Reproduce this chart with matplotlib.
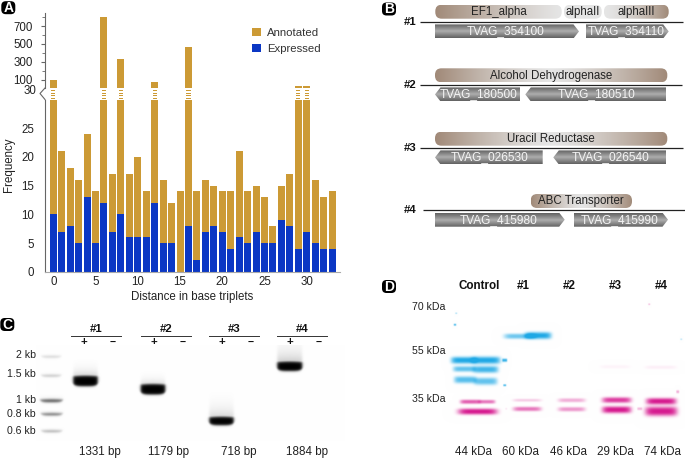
import numpy as np
import matplotlib
matplotlib.use("Agg")
import matplotlib.pyplot as plt
from matplotlib.patches import FancyBboxPatch, Polygon, Rectangle

plt.rcParams['font.family'] = ['Liberation Sans', 'DejaVu Sans']
plt.rcParams['font.size'] = 8.2

W, H = 685, 458
# ---- Panel A data
distance = list(range(34))
annotated = [100, 21, 18, 16, 24, 14, 800, 17, 330, 17, 20, 14, 72, 16, 12, 14, 465, 14,
             16, 15, 14, 14, 21, 14, 15, 13, 8, 15, 17, 30, 30, 16, 13, 14]
expressed = [10, 7, 8, 5, 13, 5, 12, 7, 10, 6, 6, 6, 12, 5, 5, 0, 8, 2,
             7, 8, 7, 4, 6, 5, 7, 5, 5, 9, 8, 4, 7, 5, 4, 4]
lower_ticks = [0, 5, 10, 15, 20, 25]
upper_ticks = [100, 300, 500, 700]
upper_minor = [200, 400, 600, 800]
x_ticks = [0, 5, 10, 15, 20, 25, 30]
GOLD, BLUE, GREY, TXT = '#CC9A35', '#0B37C4', '#666666', '#222222'
AXLAB = 8.3
TICK = 8.3

# ---- Panel B data
gene_tracks = [
    ('#1', ['TVAG_354100', 'TVAG_354110'], ['right', 'right']),
    ('#2', ['TVAG_180500', 'TVAG_180510'], ['left', 'left']),
    ('#3', ['TVAG_026530', 'TVAG_026540'], ['left', 'left']),
    ('#4', ['TVAG_415980', 'TVAG_415990'], ['right', 'right']),
]
# ---- Panel C data
pcr_groups = ['#1', '#2', '#3', '#4']
pcr_sizes = ['1331 bp', '1179 bp', '718 bp', '1884 bp']
ladder_labels = ['2 kb', '1.5 kb', '1 kb', '0.8 kb', '0.6 kb']
# ---- Panel D data
blot_lanes = ['Control', '#1', '#2', '#3', '#4']
blot_masses = ['44 kDa', '60 kDa', '46 kDa', '29 kDa', '74 kDa']
marker_labels = ['70 kDa', '55 kDa', '35 kDa']

fig = plt.figure(figsize=(W / 100, H / 100), dpi=100)
ov = fig.add_axes([0, 0, 1, 1], zorder=0)
ov.set_xlim(0, W); ov.set_ylim(H, 0); ov.axis('off')


def axes_px(x0, x1, ytop, ybot, **kw):
    return fig.add_axes([x0 / W, 1 - ybot / H, (x1 - x0) / W, (ybot - ytop) / H], **kw)


def t(x, y, s, ha='center', size=8.2, weight='normal', color=TXT, **kw):
    ov.text(x, y, s, ha=ha, va='center', fontsize=size, fontweight=weight, color=color, **kw)


def letter(x, y, s):
    ov.add_patch(FancyBboxPatch((x - 3.5, y - 3), 7, 6, boxstyle='round,pad=3.5,rounding_size=4.5',
                                fc='black', ec='black', lw=0, zorder=5))
    ov.text(x, y + 0.3, s, ha='center', va='center', color='white', fontsize=10, fontweight='bold', zorder=6)


letter(8.3, 7.7, 'A'); letter(389, 9, 'B'); letter(7.3, 324.5, 'C'); letter(389, 286.5, 'D')

# ---- Panel A
XL, XR = 45, 340
step, x0px = 8.45, 53.3
xlim = ((XL - x0px) / step, (XR - x0px) / step)
lo = axes_px(XL, XR, 99.5, 271.7, zorder=2, facecolor='none')
up = axes_px(XL, XR, 13.3, 88, zorder=2, facecolor='none')
lo.set_xlim(xlim); lo.set_ylim(0, 30)
up.set_xlim(xlim); up.set_ylim(4.7, 845)
barw = 7 / step
lo.bar(distance, [min(v, 30) for v in annotated], width=barw, color=GOLD, label='Annotated')
lo.bar(distance, expressed, width=barw, color=BLUE, label='Expressed')
up.bar(distance, [v if v >= 30 else 0 for v in annotated], width=barw, color=GOLD)
px_unit = 5 / 28.7
for d, v in zip(distance, annotated):
    if v >= 30:
        for off in (0.7, 3.2, 5.7, 8.2):
            lo.add_patch(Rectangle((d - 0.25, 30 + off * px_unit), 0.5, 1.3 * px_unit, fc=GOLD, ec='none', clip_on=False))
for s in ('top', 'right'):
    lo.spines[s].set_visible(False); up.spines[s].set_visible(False)
up.spines['bottom'].set_visible(False)
lo.spines['left'].set_color(GREY); up.spines['left'].set_color(GREY)
lo.spines['bottom'].set_color('#aaaaaa')
lo.set_xticks(x_ticks); lo.tick_params(axis='x', length=0, pad=3, labelcolor=TXT, labelsize=TICK)
lo.set_yticks(lower_ticks); lo.tick_params(axis='y', length=0, pad=8, labelcolor=TXT, labelsize=TICK)
up.set_xticks([])
up.set_yticks(upper_ticks); up.set_yticks(upper_minor, minor=True)
up.tick_params(axis='y', which='major', length=3, color=GREY, pad=6, labelcolor=TXT, labelsize=TICK)
up.tick_params(axis='y', which='minor', length=2, color=GREY)
lo.set_xlabel('Distance in base triplets', fontsize=AXLAB, color=TXT, labelpad=2)
ov.plot([45, 40, 45], [88, 93.5, 99.5], color=GREY, lw=0.8)
t(36, 91.5, '30', ha='right', size=TICK)
t(9, 165, 'Frequency', rotation=90, size=AXLAB)
h, l = lo.get_legend_handles_labels()
up.legend(h, l, loc='upper left', bbox_to_anchor=(252 / W, 1 - 28 / H), bbox_transform=fig.transFigure,
          frameon=False, fontsize=8.2, handlelength=0.8, handleheight=0.75, handletextpad=0.5,
          labelspacing=0.48, borderpad=0, borderaxespad=0, labelcolor='#333333')

# ---- Panel B
lr = np.linspace(0, 1, 256)
BROWN = np.array([0.63, 0.54, 0.47]); LIGHT = np.array([0.90, 0.90, 0.90])


def grad(kind):
    if kind == 'both':
        f = np.abs(lr * 2 - 1) ** 1.3
    elif kind == 'left':
        f = (1 - lr) ** 1.2
    elif kind == 'right':
        f = lr ** 1.6
    else:
        f = lr * 0
    return (LIGHT + (BROWN - LIGHT) * f[:, None])[None, :, :]


def pill(x0, x1, y0, y1, label, kind):
    im = ov.imshow(grad(kind), extent=(x0, x1, y1, y0), aspect='auto', zorder=1)
    im.set_clip_path(FancyBboxPatch((x0, y0), x1 - x0, y1 - y0, boxstyle='round,pad=0,rounding_size=6.5',
                                    transform=ov.transData))
    ov.text((x0 + x1) / 2, (y0 + y1) / 2 + 0.2, label, ha='center', va='center', fontsize=8.3, color='#222222', zorder=3)


vg = np.abs(np.linspace(-1, 1, 64))[:, None]
gene_img = (0.68 - 0.30 * vg)


def gene(x0, x1, y0, y1, label, d):
    head = 5.5
    ym = (y0 + y1) / 2
    if d == 'right':
        pts = [(x0, y0), (x1 - head, y0), (x1, ym), (x1 - head, y1), (x0, y1)]
    else:
        pts = [(x1, y0), (x0 + head, y0), (x0, ym), (x0 + head, y1), (x1, y1)]
    poly = Polygon(pts, closed=True, fc='none', ec='none')
    ov.add_patch(poly)
    im = ov.imshow(gene_img, extent=(x0, x1, y1, y0), aspect='auto', cmap='gray', vmin=0, vmax=1, zorder=1)
    im.set_clip_path(poly)
    ov.text((x0 + x1) / 2 + (1 if d == 'left' else -1), ym, label, ha='center', va='center',
            fontsize=8.6, color='#f4f4f4', zorder=3)


pill(435.3, 561.7, 4.7, 18.7, 'EF1_alpha', 'left')
pill(564, 601.7, 4.7, 18.7, 'alphaII', 'none')
pill(604, 668.7, 4.7, 18.7, 'alphaIII', 'right')
pill(435, 667.3, 68.3, 82.3, 'Alcohol Dehydrogenase', 'both')
pill(435, 667.3, 131.7, 145.7, 'Uracil Reductase', 'both')
pill(530.7, 632, 194, 208, 'ABC Transporter', 'both')
track_line = [(21.7, 420, 683), (84.7, 420, 682), (147.7, 420, 683), (210, 423, 685)]
gene_box = [
    [(435, 579), (585.7, 668.7)], [(435, 520), (525.3, 666)],
    [(435, 542.7), (553.3, 666)], [(435, 564.7), (574, 668)],
]
for (name, labels, dirs), (ly, a, b), boxes in zip(gene_tracks, track_line, gene_box):
    ov.plot([a, b], [ly, ly], color='#222222', lw=0.9, zorder=2, solid_capstyle='butt')
    t(410, ly, name, weight='bold', size=8.2, color='#111111')
    for lab, d, (g0, g1) in zip(labels, dirs, boxes):
        gene(g0, g1, ly + 2.7, ly + 16.7, lab, d)

# ---- Panel C
gx, gy = np.meshgrid(np.arange(36, 345, 0.5), np.arange(345, 441, 0.5))


def sig(v):
    return 1 / (1 + np.exp(-np.clip(v, -30, 30)))


def gel_band(x0, x1, yc, h, d, smear=0.0, slen=6.0, edge=0.8):
    xc, hw = (x0 + x1) / 2, (x1 - x0) / 2
    sx = sig((gx - x0) / edge) * sig((x1 - gx) / edge)
    u = (gx - xc) / hw
    top = yc - h / 2 + 0.6 * u ** 2
    bot = yc + h / 2 - 2.0 * u ** 4
    sy = sig((gy - top) / 0.8) * sig((bot - gy) / 0.7)
    sm = smear * np.exp(np.minimum(gy - top, 0) / slen) * (gy < top)
    return sx * np.maximum(sy * d, sm)


gel_specs = [
    (40, 62, 356.5, 1.6, 0.22, 0, 3), (40, 62, 375.5, 1.8, 0.28, 0, 3),
    (39.5, 63, 400.5, 2.8, 0.72, 0.1, 2), (40, 63, 414, 2.2, 0.62, 0, 2), (40, 63, 431, 1.6, 0.42, 0, 2),
    (73, 97.5, 380.7, 10.5, 1.0, 0.18, 5), (140.5, 165, 389, 10.5, 1.0, 0.16, 4),
    (209, 233.5, 420.7, 8.5, 1.0, 0.16, 8), (277, 302, 366, 9.5, 1.0, 0.2, 9),
]
dark = np.zeros_like(gx)
for spec in gel_specs:
    dark = np.maximum(dark, gel_band(*spec))
gel = np.minimum(0.993, 1 - dark)
ov.imshow(gel, extent=(36, 345, 441, 345), cmap='gray', vmin=0, vmax=1, aspect='auto', zorder=0, interpolation='bilinear')
for lab, y in zip(ladder_labels, [355.5, 374, 400, 414, 431]):
    t(35.7, y, lab, ha='right', size=7.6)
for name, (a, b), pl, mi, cx, sz in zip(pcr_groups, [(71, 121), (141, 191), (208.7, 258.7), (276.7, 326.7)],
                                        [84, 153.7, 221.7, 289.7], [113, 182.7, 250.7, 318.3],
                                        [100, 168.7, 239, 307], pcr_sizes):
    ov.plot([a, b], [336, 336], color='#333333', lw=0.7, zorder=2)
    t((a + b) / 2, 329.5, name, weight='bold', size=8.2, color='#111111')
    t(pl, 342.3, '+', weight='bold', size=8.2, color='#111111')
    t(mi, 342, '\u2212', weight='bold', size=7.5, color='#111111')
    t(cx, 451.7, sz, size=8.4)

# ---- Panel D
bx, by = np.meshgrid(np.arange(440, 685, 0.5), np.arange(296, 445, 0.5))


def blot_band(x0, x1, yc, sy, d, slope=0.0):
    xc, hw = (x0 + x1) / 2, (x1 - x0) / 2
    u = (bx - xc) / hw
    return d * (1 + slope * u) * np.exp(-np.abs(u) ** 6) * np.exp(-np.abs((by - yc) / sy) ** 2.6)


cyan_specs = [
    (451, 476, 360, 3.4, 1.0, 0), (472, 500, 360, 3.6, 1.0, 0),
    (453, 475, 368.7, 2.8, 0.7, 0), (473, 498, 369.2, 3.4, 0.85, 0),
    (454, 476, 379.5, 3.4, 0.75, 0), (474, 497, 381, 3.6, 0.7, 0),
    (504, 535, 336, 2.6, 0.65, 0), (525, 551, 335.3, 3.4, 1.0, 0),
    (502, 507, 360, 1.6, 0.9, 0), (503, 506, 385, 1, 0.8, 0),
    (453.5, 456, 324.5, 1, 0.8, 0), (455, 457, 313, 0.7, 0.4, 0), (680, 682, 339, 0.8, 0.3, 0),
]
pink_specs = [
    (460, 480, 401.5, 2.1, 0.7, 0), (478, 495, 401.5, 1.9, 0.6, 0), (458, 497, 411.3, 3.0, 1.0, 0),
    (513, 541, 400, 1.5, 0.22, 0), (513, 541, 408.7, 2.2, 0.6, 0),
    (558, 585, 400, 2.0, 0.35, 0), (558, 585, 409, 2.2, 0.45, 0),
    (602, 631, 399.8, 2.8, 0.85, 0), (602, 631, 409.5, 3.4, 1.0, 0),
    (646, 676, 401, 3.2, 1.0, 0), (645, 677, 411, 4.6, 1.0, 0),
    (600, 630, 366.5, 1.8, 0.05, 0), (645, 676, 367, 1.8, 0.07, 0),
    (676, 679, 391.5, 1.5, 0.35, 0), (648, 650, 304, 0.8, 0.3, 0),
    (505, 507, 408.5, 1, 0.1, 0), (637, 642, 408.5, 1.4, 0.3, 0),
]
cy = np.zeros_like(bx); mg = np.zeros_like(bx)
for s in cyan_specs:
    cy += blot_band(*s)
for s in pink_specs:
    mg += blot_band(*s)
cy = np.clip(cy, 0, 1)[..., None]; mg = np.clip(mg, 0, 1)[..., None]
ink_c = np.array([0.12, 0.66, 0.90]); ink_m = np.array([0.84, 0.10, 0.56])
img = (1 - cy * (1 - ink_c)) * (1 - mg * (1 - ink_m))
ov.imshow(img, extent=(440, 685, 445, 296), aspect='auto', zorder=0, interpolation='bilinear')
for lab, y in zip(marker_labels, [306.7, 351, 399.3]):
    t(445.7, y, lab, ha='right', size=7.6)
for lab, x in zip(blot_lanes, [479, 523, 569.3, 615.7, 661.7]):
    t(x, 286, lab, weight='bold', size=8.4, color='#111111')
for lab, x in zip(blot_masses, [474, 521, 568.3, 615.7, 663]):
    t(x, 451.7, lab, size=8.4)

ov.set_xlim(0, W); ov.set_ylim(H, 0)
fig.savefig('out.png', dpi=100)
